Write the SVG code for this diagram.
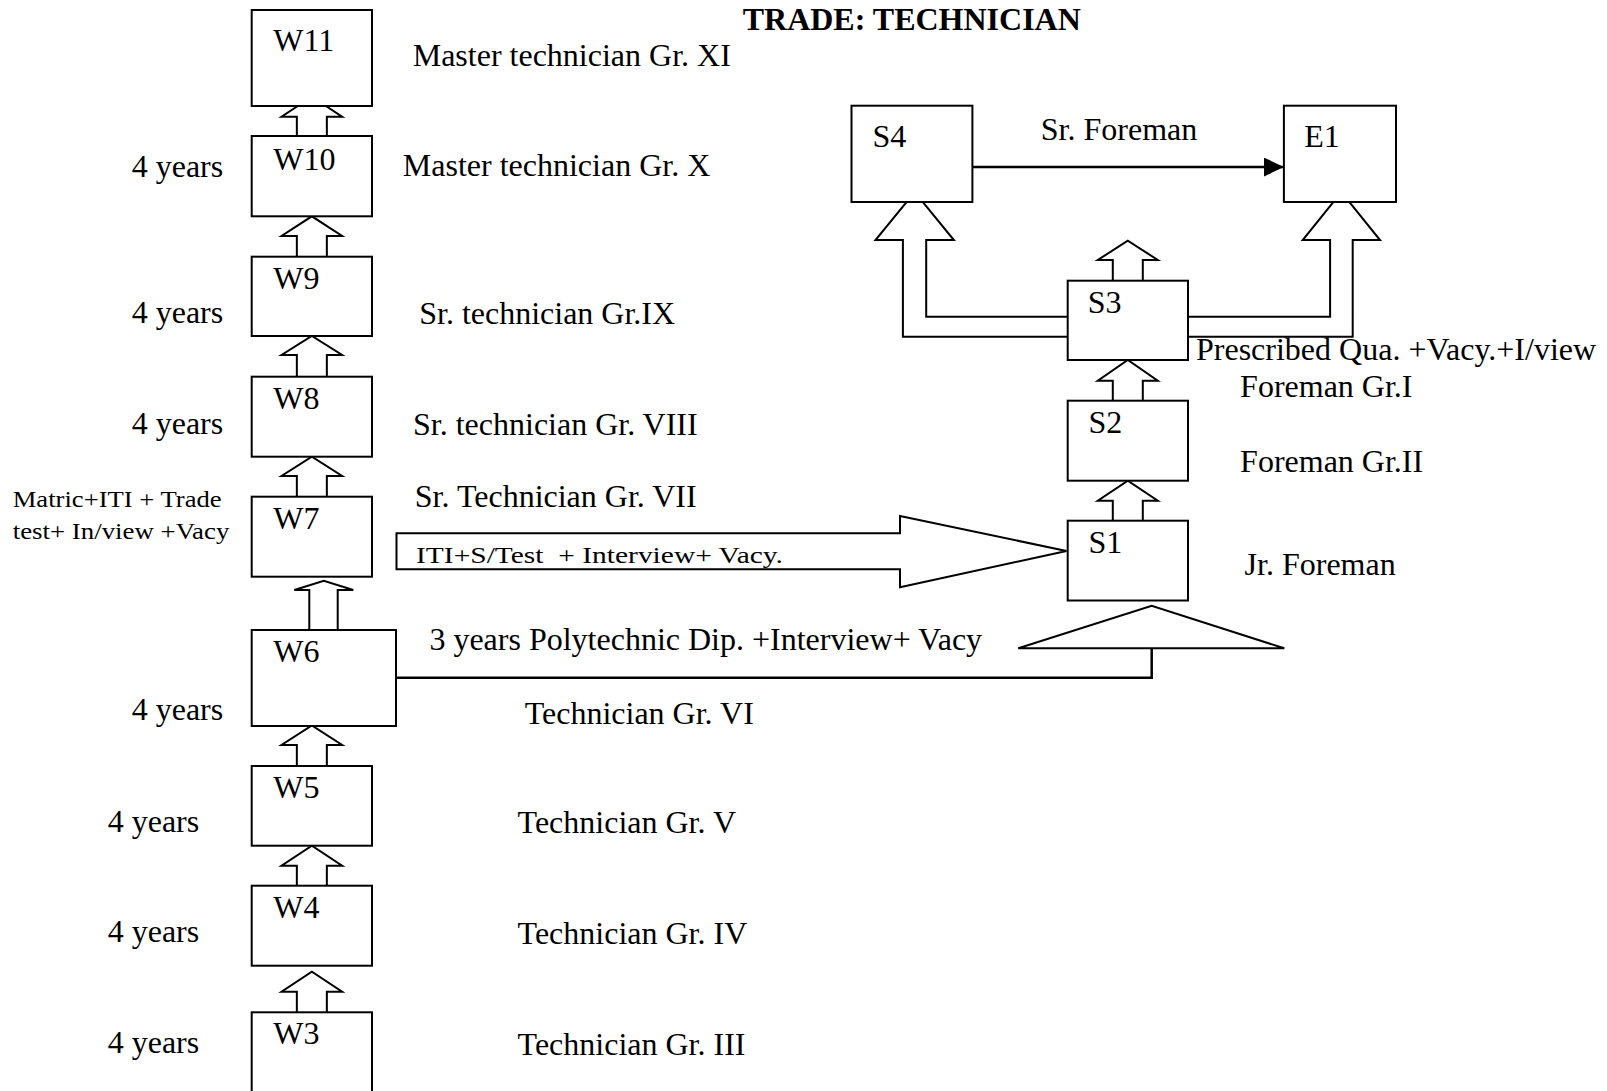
<svg xmlns="http://www.w3.org/2000/svg" width="1607" height="1091" viewBox="0 0 1607 1091">
<style>
.box{fill:#fff;stroke:#000;stroke-width:2}
.arr{fill:#fff;stroke:#000;stroke-width:2;stroke-linejoin:miter}
.ln{fill:none;stroke:#000;stroke-width:2.5}
text{font-family:"Liberation Serif","Times New Roman",serif;font-size:32px;fill:#000}
.sm{font-size:23px;white-space:pre}
.b{font-weight:bold}
</style>
<defs>
<marker id="head" markerWidth="20" markerHeight="19" refX="20" refY="9.5" orient="auto" markerUnits="userSpaceOnUse" viewBox="0 0 20 19">
<path d="M0,0 L20,9.5 L0,19 Z" fill="#000"/>
</marker>
</defs>
<rect width="1607" height="1091" fill="#fff"/>
<g id="connectors">
<path class="arr" d="M296.85,136 V116.7 H281.55 L311.85,96.7 L342.15,116.7 H326.85 V136"/>
<path class="arr" d="M296.85,256.7 V236 H281.55 L311.85,216.3 L342.15,236 H326.85 V256.7"/>
<path class="arr" d="M296.85,376.7 V355 H281.55 L311.85,336 L342.15,355 H326.85 V376.7"/>
<path class="arr" d="M296.85,496.7 V476 H281.55 L311.85,456.7 L342.15,476 H326.85 V496.7"/>
<path class="arr" d="M309.3,630 V590 H294.3 L323.8,580.7 L353.3,590 H337.7 V630"/>
<path class="arr" d="M296.85,766 V745 H281.55 L311.85,725.5 L342.15,745 H326.85 V766"/>
<path class="arr" d="M296.85,885.7 V865.7 H281.55 L311.85,845.7 L342.15,865.7 H326.85 V885.7"/>
<path class="arr" d="M296.85,1012.3 V991.7 H281.55 L311.85,971.7 L342.15,991.7 H326.85 V1012.3"/>
<path class="arr" d="M1112.8,280.7 V260 H1097.8 L1127.8,240.7 L1157.8,260 H1142.8 V280.7"/>
<path class="arr" d="M1112.8,400.7 V380.7 H1097.8 L1127.8,360 L1157.8,380.7 H1142.8 V400.7"/>
<path class="arr" d="M1112.8,520.7 V500.7 H1097.8 L1127.8,480.7 L1157.8,500.7 H1142.8 V520.7"/>
<path class="arr" d="M1070,336.7 H902.9 V240 H875.5 L914.7,192 L953.9,240 H926.2 V316.7 H1070"/>
<path class="arr" d="M1186,316.7 H1330.1 V240 H1302.7 L1341.4,192 L1380,240 H1352.7 V336.7 H1186"/>
<path class="arr" d="M396.5,533.3 H900 V516 L1066.5,551 L900,587.3 V569.3 H396.5 Z"/>
<path class="arr" d="M1018.3,648.3 L1151.7,605.7 L1284.3,648.3 Z"/>
<path class="ln" d="M396,677.7 H1151.7 V648.3"/>
<path class="ln" d="M972.4,167 H1283.9" marker-end="url(#head)"/>
</g>
<g id="W11"><rect class="box" x="251.7" y="10" width="120.3" height="96"/><text x="273.3" y="50.7">W11</text></g>
<g id="W10"><rect class="box" x="251.7" y="136" width="120.3" height="80.3"/><text x="273.3" y="170">W10</text></g>
<g id="W9"><rect class="box" x="251.7" y="256.7" width="120.3" height="79.3"/><text x="273.3" y="289.3">W9</text></g>
<g id="W8"><rect class="box" x="251.7" y="376.7" width="120.3" height="80"/><text x="273.3" y="409.3">W8</text></g>
<g id="W7"><rect class="box" x="251.7" y="496.7" width="120.3" height="80"/><text x="273.3" y="529.3">W7</text></g>
<g id="W6"><rect class="box" x="251.7" y="630" width="144.3" height="96"/><text x="273.3" y="661.7">W6</text></g>
<g id="W5"><rect class="box" x="251.7" y="766" width="120.3" height="79.7"/><text x="273.3" y="798.3">W5</text></g>
<g id="W4"><rect class="box" x="251.7" y="885.7" width="120.3" height="80"/><text x="273.3" y="918.3">W4</text></g>
<g id="W3"><rect class="box" x="251.7" y="1012.3" width="120.3" height="90"/><text x="273.3" y="1044">W3</text></g>
<g id="S4"><rect class="box" x="851.5" y="105.7" width="120.9" height="96.3"/><text x="872.5" y="147.3">S4</text></g>
<g id="E1"><rect class="box" x="1283.9" y="105.7" width="112.1" height="96.3"/><text x="1304.2" y="147.3">E1</text></g>
<g id="S3"><rect class="box" x="1067.7" y="280.7" width="120.3" height="79.3"/><text x="1087.8" y="313.3">S3</text></g>
<g id="S2"><rect class="box" x="1067.7" y="400.7" width="120.3" height="80"/><text x="1088.5" y="433.3">S2</text></g>
<g id="S1"><rect class="box" x="1067.7" y="520.7" width="120.3" height="79.8"/><text x="1088.5" y="553.3">S1</text></g>
<g id="labels">
<text class="b" x="742.7" y="30">TRADE: TECHNICIAN</text>
<text x="412.7" y="66">Master technician Gr. XI</text>
<text x="402.8" y="176.3">Master technician Gr. X</text>
<text x="419.2" y="323.9">Sr. technician Gr.IX</text>
<text x="413" y="434.6">Sr. technician Gr. VIII</text>
<text x="414.8" y="507.3">Sr. Technician Gr. VII</text>
<text class="sm" x="416" y="563.3" textLength="367" lengthAdjust="spacingAndGlyphs">ITI+S/Test  + Interview+ Vacy.</text>
<text x="429.4" y="650">3 years Polytechnic Dip. +Interview+ Vacy</text>
<text x="524.7" y="723.6">Technician Gr. VI</text>
<text x="517.6" y="833">Technician Gr. V</text>
<text x="517.6" y="944">Technician Gr. IV</text>
<text x="517.6" y="1054.6">Technician Gr. III</text>
<text x="131.7" y="177.3">4 years</text>
<text x="131.7" y="323.3">4 years</text>
<text x="131.7" y="434.3">4 years</text>
<text x="131.7" y="720">4 years</text>
<text x="107.7" y="831.7">4 years</text>
<text x="107.7" y="941.7">4 years</text>
<text x="107.7" y="1053.3">4 years</text>
<text class="sm" x="12.7" y="506.7" textLength="209" lengthAdjust="spacingAndGlyphs">Matric+ITI + Trade</text>
<text class="sm" x="12.7" y="539.3" textLength="216.7" lengthAdjust="spacingAndGlyphs">test+ In/view +Vacy</text>
<text x="1040.8" y="140">Sr. Foreman</text>
<text x="1196" y="360">Prescribed Qua. +Vacy.+I/view</text>
<text x="1240.1" y="396.7">Foreman Gr.I</text>
<text x="1240.1" y="471.7">Foreman Gr.II</text>
<text x="1244.6" y="575">Jr. Foreman</text>
</g>
</svg>
